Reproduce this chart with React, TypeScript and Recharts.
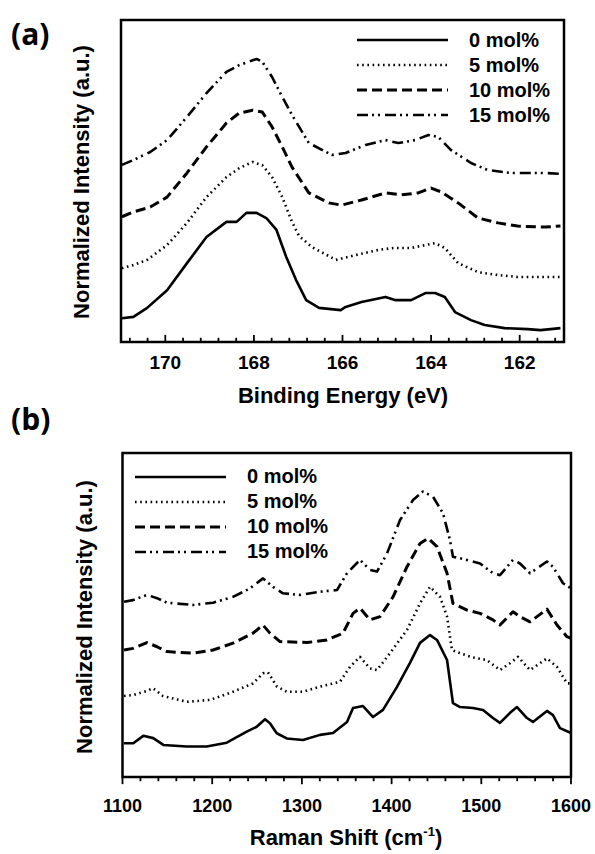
import React from 'react';
import { LineChart, Line, XAxis, YAxis, ReferenceArea, ReferenceLine } from 'recharts';

// ---------- Panel (a): XPS S 2p ----------
const XPS_0 = [
  { x: 170.98, y: 7.4 }, { x: 170.72, y: 7.8 }, { x: 170.41, y: 10.6 }, { x: 169.96, y: 16.1 },
  { x: 169.51, y: 24.5 }, { x: 169.07, y: 32.6 }, { x: 168.62, y: 37.3 }, { x: 168.39, y: 37.3 },
  { x: 168.17, y: 40.1 }, { x: 167.94, y: 40.1 }, { x: 167.72, y: 38.5 }, { x: 167.49, y: 34.8 },
  { x: 167.27, y: 26.4 }, { x: 167.05, y: 19.3 }, { x: 166.82, y: 13.0 }, { x: 166.53, y: 10.6 },
  { x: 166.04, y: 9.9 }, { x: 165.93, y: 10.9 }, { x: 165.57, y: 12.4 }, { x: 165.03, y: 14.0 },
  { x: 164.8, y: 13.0 }, { x: 164.45, y: 13.0 }, { x: 164.13, y: 15.2 }, { x: 163.91, y: 15.2 },
  { x: 163.69, y: 14.0 }, { x: 163.46, y: 9.3 }, { x: 163.1, y: 6.8 }, { x: 162.79, y: 5.3 },
  { x: 162.34, y: 4.3 }, { x: 161.82, y: 4.0 }, { x: 161.53, y: 3.7 }, { x: 161.08, y: 4.3 },
];
const XPS_5 = [
  { x: 170.98, y: 22.9 }, { x: 170.72, y: 23.9 }, { x: 170.41, y: 25.5 }, { x: 169.96, y: 30.1 },
  { x: 169.51, y: 37.0 }, { x: 169.07, y: 45.0 }, { x: 168.62, y: 51.2 }, { x: 168.33, y: 54.0 },
  { x: 168.03, y: 55.9 }, { x: 167.81, y: 54.9 }, { x: 167.59, y: 51.2 }, { x: 167.36, y: 45.0 },
  { x: 167.14, y: 37.3 }, { x: 166.98, y: 32.9 }, { x: 166.69, y: 29.5 }, { x: 166.15, y: 25.5 },
  { x: 165.7, y: 27.0 }, { x: 165.19, y: 28.6 }, { x: 164.85, y: 29.2 }, { x: 164.45, y: 29.2 },
  { x: 164.13, y: 30.1 }, { x: 163.91, y: 30.7 }, { x: 163.69, y: 29.2 }, { x: 163.39, y: 24.5 },
  { x: 162.94, y: 21.7 }, { x: 162.49, y: 20.8 }, { x: 162.05, y: 20.2 }, { x: 161.44, y: 20.2 },
  { x: 161.08, y: 20.2 },
];
const XPS_10 = [
  { x: 170.98, y: 38.9 }, { x: 170.72, y: 40.4 }, { x: 170.57, y: 41.0 }, { x: 170.34, y: 41.9 },
  { x: 169.96, y: 45.0 }, { x: 169.51, y: 52.5 }, { x: 169.07, y: 60.6 }, { x: 168.62, y: 68.0 },
  { x: 168.33, y: 71.1 }, { x: 168.03, y: 72.0 }, { x: 167.81, y: 71.4 }, { x: 167.59, y: 66.8 },
  { x: 167.36, y: 60.6 }, { x: 167.14, y: 54.3 }, { x: 166.76, y: 46.3 }, { x: 166.31, y: 43.2 },
  { x: 166.02, y: 42.5 }, { x: 165.57, y: 44.1 }, { x: 165.03, y: 46.3 }, { x: 164.67, y: 45.7 },
  { x: 164.29, y: 46.3 }, { x: 164.0, y: 47.8 }, { x: 163.77, y: 46.6 }, { x: 163.39, y: 43.2 },
  { x: 162.94, y: 38.5 }, { x: 162.49, y: 37.0 }, { x: 162.05, y: 36.0 }, { x: 161.44, y: 35.7 },
  { x: 161.08, y: 36.0 },
];
const XPS_15 = [
  { x: 170.98, y: 55.0 }, { x: 170.72, y: 56.5 }, { x: 170.34, y: 59.0 }, { x: 169.96, y: 62.7 },
  { x: 169.51, y: 69.9 }, { x: 169.07, y: 77.3 }, { x: 168.62, y: 83.9 }, { x: 168.33, y: 86.0 },
  { x: 167.94, y: 87.9 }, { x: 167.81, y: 87.0 }, { x: 167.59, y: 82.3 }, { x: 167.36, y: 76.1 },
  { x: 167.14, y: 70.5 }, { x: 166.76, y: 61.8 }, { x: 166.24, y: 58.1 }, { x: 165.93, y: 58.7 },
  { x: 165.48, y: 61.2 }, { x: 165.03, y: 62.7 }, { x: 164.74, y: 61.8 }, { x: 164.36, y: 62.7 },
  { x: 164.06, y: 64.3 }, { x: 163.84, y: 63.7 }, { x: 163.55, y: 59.6 }, { x: 163.1, y: 55.6 },
  { x: 162.72, y: 53.4 }, { x: 162.2, y: 52.5 }, { x: 161.44, y: 52.5 }, { x: 161.08, y: 52.2 },
];
const XPS_TICKS_MAJOR = [170, 168, 166, 164, 162];
const XPS_TICKS_MINOR = [
  170.8, 170.4, 169.6, 169.2, 168.8, 168.4, 167.6, 167.2, 166.8, 166.4,
  165.6, 165.2, 164.8, 164.4, 163.6, 163.2, 162.8, 162.4, 161.6, 161.2,
];

// ---------- Panel (b): Raman ----------
const RAMAN_0 = [
  { x: 1101.7, y: 10.4 }, { x: 1112.0, y: 10.4 }, { x: 1123.2, y: 12.7 }, { x: 1134.3, y: 12.0 },
  { x: 1145.5, y: 9.9 }, { x: 1171.6, y: 9.4 }, { x: 1193.9, y: 9.4 }, { x: 1216.2, y: 10.6 },
  { x: 1238.5, y: 14.0 }, { x: 1249.6, y: 15.5 }, { x: 1258.9, y: 17.8 }, { x: 1264.4, y: 16.6 },
  { x: 1271.9, y: 13.5 }, { x: 1283.1, y: 11.9 }, { x: 1301.2, y: 11.4 }, { x: 1320.2, y: 13.0 },
  { x: 1334.7, y: 13.6 }, { x: 1350.3, y: 17.0 }, { x: 1357.0, y: 21.3 }, { x: 1368.1, y: 21.9 },
  { x: 1379.3, y: 18.5 }, { x: 1390.4, y: 20.7 }, { x: 1406.0, y: 27.8 }, { x: 1420.5, y: 35.2 },
  { x: 1431.7, y: 41.4 }, { x: 1442.8, y: 43.8 }, { x: 1450.6, y: 42.3 }, { x: 1461.8, y: 36.1 },
  { x: 1468.4, y: 22.8 }, { x: 1476.3, y: 21.6 }, { x: 1490.7, y: 21.3 }, { x: 1501.9, y: 20.7 },
  { x: 1513.0, y: 18.2 }, { x: 1520.8, y: 16.7 }, { x: 1532.0, y: 19.8 }, { x: 1539.8, y: 21.6 },
  { x: 1550.9, y: 18.2 }, { x: 1557.6, y: 17.0 }, { x: 1573.2, y: 20.4 }, { x: 1579.9, y: 19.1 },
  { x: 1587.7, y: 15.1 }, { x: 1600, y: 13.6 },
];
const RAMAN_5 = [
  { x: 1101.7, y: 25.0 }, { x: 1111.7, y: 25.3 }, { x: 1127.3, y: 26.6 }, { x: 1134.0, y: 27.4 },
  { x: 1145.1, y: 25.0 }, { x: 1171.9, y: 23.2 }, { x: 1197.5, y: 23.8 }, { x: 1223.2, y: 26.3 },
  { x: 1245.5, y: 28.9 }, { x: 1256.6, y: 32.0 }, { x: 1262.2, y: 32.3 }, { x: 1272.2, y: 27.9 },
  { x: 1283.4, y: 26.3 }, { x: 1301.2, y: 26.3 }, { x: 1320.2, y: 27.9 }, { x: 1342.5, y: 29.4 },
  { x: 1353.6, y: 34.0 }, { x: 1364.8, y: 37.1 }, { x: 1375.9, y: 33.5 }, { x: 1383.7, y: 33.0 },
  { x: 1398.2, y: 38.2 }, { x: 1417.2, y: 45.4 }, { x: 1431.7, y: 53.6 }, { x: 1442.8, y: 58.7 },
  { x: 1454.0, y: 55.6 }, { x: 1461.8, y: 49.5 }, { x: 1467.3, y: 39.2 }, { x: 1476.3, y: 38.2 },
  { x: 1490.7, y: 36.9 }, { x: 1506.3, y: 36.1 }, { x: 1520.8, y: 33.0 }, { x: 1532.0, y: 35.1 },
  { x: 1540.9, y: 37.1 }, { x: 1554.3, y: 33.0 }, { x: 1573.2, y: 36.6 }, { x: 1584.4, y: 34.0 },
  { x: 1595.5, y: 28.9 }, { x: 1600, y: 28.9 },
];
const RAMAN_10 = [
  { x: 1101.7, y: 39.2 }, { x: 1111.7, y: 39.7 }, { x: 1127.3, y: 41.5 }, { x: 1138.5, y: 40.2 },
  { x: 1149.6, y: 38.7 }, { x: 1178.6, y: 38.2 }, { x: 1200.9, y: 39.2 }, { x: 1223.2, y: 41.3 },
  { x: 1245.5, y: 44.4 }, { x: 1256.6, y: 46.9 }, { x: 1264.4, y: 44.4 }, { x: 1275.6, y: 41.8 },
  { x: 1305.7, y: 41.5 }, { x: 1328.0, y: 42.3 }, { x: 1345.8, y: 44.4 }, { x: 1357.0, y: 50.5 },
  { x: 1364.8, y: 52.1 }, { x: 1375.9, y: 48.5 }, { x: 1387.1, y: 49.5 }, { x: 1401.6, y: 55.6 },
  { x: 1417.2, y: 64.9 }, { x: 1431.7, y: 72.1 }, { x: 1440.6, y: 73.7 }, { x: 1450.6, y: 71.1 },
  { x: 1461.8, y: 62.9 }, { x: 1468.4, y: 53.6 }, { x: 1484.1, y: 51.5 }, { x: 1498.6, y: 50.5 },
  { x: 1513.0, y: 48.5 }, { x: 1520.8, y: 46.9 }, { x: 1535.3, y: 51.0 }, { x: 1543.1, y: 49.5 },
  { x: 1554.3, y: 47.9 }, { x: 1573.2, y: 51.8 }, { x: 1584.4, y: 46.9 }, { x: 1595.5, y: 43.3 },
  { x: 1600, y: 42.8 },
];
const RAMAN_15 = [
  { x: 1101.7, y: 54.1 }, { x: 1111.7, y: 54.6 }, { x: 1127.3, y: 56.2 }, { x: 1138.5, y: 55.2 },
  { x: 1149.6, y: 53.8 }, { x: 1178.6, y: 53.1 }, { x: 1200.9, y: 53.8 }, { x: 1223.2, y: 55.6 },
  { x: 1242.1, y: 58.2 }, { x: 1256.6, y: 61.3 }, { x: 1267.8, y: 58.7 }, { x: 1278.9, y: 56.7 },
  { x: 1297.9, y: 56.2 }, { x: 1320.2, y: 57.2 }, { x: 1339.1, y: 57.7 }, { x: 1350.3, y: 62.9 },
  { x: 1364.8, y: 67.0 }, { x: 1375.9, y: 63.9 }, { x: 1383.7, y: 63.4 }, { x: 1394.9, y: 69.0 },
  { x: 1409.4, y: 79.3 }, { x: 1423.9, y: 85.5 }, { x: 1435.0, y: 88.1 }, { x: 1446.2, y: 86.5 },
  { x: 1457.3, y: 81.4 }, { x: 1465.1, y: 73.1 }, { x: 1468.4, y: 68.0 }, { x: 1484.1, y: 67.0 },
  { x: 1498.6, y: 65.9 }, { x: 1513.0, y: 62.9 }, { x: 1520.8, y: 62.3 }, { x: 1535.3, y: 67.0 },
  { x: 1543.1, y: 65.9 }, { x: 1554.3, y: 62.9 }, { x: 1573.2, y: 66.5 }, { x: 1579.9, y: 64.9 },
  { x: 1591.1, y: 59.8 }, { x: 1600, y: 58.2 },
];
const RAMAN_TICKS_MAJOR = [1100, 1200, 1300, 1400, 1500, 1600];
const RAMAN_TICKS_MINOR = [
  1120, 1140, 1160, 1180, 1220, 1240, 1260, 1280, 1320, 1340, 1360, 1380,
  1420, 1440, 1460, 1480, 1520, 1540, 1560, 1580,
];

const SERIES_NAMES = ['0 mol%', '5 mol%', '10 mol%', '15 mol%'];
const XPS_SERIES = [XPS_0, XPS_5, XPS_10, XPS_15];
const RAMAN_SERIES = [RAMAN_0, RAMAN_5, RAMAN_10, RAMAN_15];

const STYLES = [
  { w: 2.6, dash: undefined as string | undefined },
  { w: 2.6, dash: '1.6 3.6' },
  { w: 3, dash: '10 5' },
  { w: 2.6, dash: '11 4 2 4 2 5' },
];

const FONT = '"Liberation Sans", Arial, sans-serif';

const makeTick = (majors: number[], labelDy: number, fs: number) => (props: any) => {
  const { x, y, payload } = props;
  if (!majors.includes(payload.value)) return <g />;
  return (
    <text x={x} y={y + labelDy} textAnchor="middle" fontFamily={FONT} fontWeight="bold" fontSize={fs} fill="#000">
      {payload.value}
    </text>
  );
};
const tickA = makeTick(XPS_TICKS_MAJOR, 27, 19);
const tickB = makeTick(RAMAN_TICKS_MAJOR, 35, 18);

const LegendBox = ({ left, top }: { left: number; top: number }) => (
  <div style={{ position: 'absolute', left, top, fontFamily: FONT, fontWeight: 'bold', fontSize: 20, color: '#000' }}>
    {SERIES_NAMES.map((n, i) => (
      <div key={n} style={{ display: 'flex', alignItems: 'center', height: 25 }}>
        <svg width={91} height={10} style={{ display: 'block' }}>
          <line x1={0} x2={91} y1={5} y2={5} stroke="#000" strokeWidth={STYLES[i].w} strokeDasharray={STYLES[i].dash} />
        </svg>
        <span style={{ marginLeft: 21, lineHeight: '25px', whiteSpace: 'nowrap' }}>{n}</span>
      </div>
    ))}
  </div>
);

const txt: React.CSSProperties = {
  position: 'absolute', fontFamily: FONT, fontWeight: 'bold', fontSize: 22, lineHeight: '22px',
  color: '#000', whiteSpace: 'nowrap', textAlign: 'center',
};
const panelTag: React.CSSProperties = {
  position: 'absolute', fontFamily: '"Open Sans", sans-serif', fontWeight: 'bold', fontSize: 30,
  lineHeight: '30px', color: '#000', whiteSpace: 'nowrap',
};

// tick mark lengths in y-axis units (0..100 spans the plot height)
function Panel({ series, domain, reversed, majors, minors, tick, inward, width, height, margin }: any) {
  const majorLen = 2.2;
  const minorLen = 1.3;
  const allTicks = [...majors, ...minors];
  return (
    <LineChart width={width} height={height} margin={margin}>
      <XAxis xAxisId="b" type="number" dataKey="x" domain={domain} reversed={reversed} allowDataOverflow
        ticks={allTicks} interval={0} height={40}
        tickSize={0} tickMargin={0} tickLine={false} axisLine={false} tick={tick} />
      <YAxis yAxisId="l" type="number" domain={[0, 100]} allowDataOverflow width={1} tick={false} tickLine={false} axisLine={false} />
      <ReferenceArea xAxisId="b" yAxisId="l" x1={domain[0]} x2={domain[1]} y1={0} y2={100}
        fill="none" fillOpacity={0} stroke="#000" strokeWidth={2.5} ifOverflow="visible" />
      {allTicks.map((v: number) => {
        const len = majors.includes(v) ? majorLen : minorLen;
        return (
          <ReferenceLine key={'t' + v} xAxisId="b" yAxisId="l" ifOverflow="visible"
            segment={[{ x: v, y: 0 }, { x: v, y: inward ? len : -len }]}
            stroke="#000" strokeWidth={1.8} />
        );
      })}
      {series.map((d: any, i: number) => (
        <Line key={i} xAxisId="b" yAxisId="l" data={d} dataKey="y" type="linear"
          stroke="#000" strokeWidth={STYLES[i].w} strokeDasharray={STYLES[i].dash}
          strokeLinejoin="round" dot={false} isAnimationActive={false} />
      ))}
    </LineChart>
  );
}

export default function App() {
  return (
    <div style={{ position: 'absolute', left: 0, top: 0, width: 595, height: 854 }}>
      <div style={{ position: 'absolute', left: 0, top: 0 }}>
        <Panel series={XPS_SERIES} domain={[161, 171]} reversed inward
          majors={XPS_TICKS_MAJOR} minors={XPS_TICKS_MINOR} tick={tickA}
          width={595} height={420} margin={{ top: 20, right: 31, bottom: 38, left: 120 }} />
      </div>
      <div style={{ position: 'absolute', left: 0, top: 430 }}>
        <Panel series={RAMAN_SERIES} domain={[1100, 1600]} reversed={false} inward={false}
          majors={RAMAN_TICKS_MAJOR} minors={RAMAN_TICKS_MINOR} tick={tickB}
          width={595} height={424} margin={{ top: 23, right: 24, bottom: 37, left: 121.5 }} />
      </div>
      <LegendBox left={357} top={27.5} />
      <LegendBox left={135} top={464} />
      <div style={{ ...panelTag, left: 11, top: 19.4 }}>(a)</div>
      <div style={{ ...panelTag, left: 11, top: 404.4 }}>(b)</div>
      <div style={{ ...txt, left: 82.4 - 160, top: 182 - 11, width: 320, transform: 'rotate(-90deg)' }}>Normalized Intensity (a.u.)</div>
      <div style={{ ...txt, left: 85.4 - 160, top: 617 - 11, width: 320, transform: 'rotate(-90deg)' }}>Normalized Intensity (a.u.)</div>
      <div style={{ ...txt, left: 343 - 150, top: 385.4, width: 300 }}>Binding Energy (eV)</div>
      <div style={{ ...txt, left: 346 - 150, top: 827.4, width: 300 }}>
        Raman Shift (cm<span style={{ fontSize: 13, position: 'relative', top: -9 }}>-1</span>)
      </div>
    </div>
  );
}
